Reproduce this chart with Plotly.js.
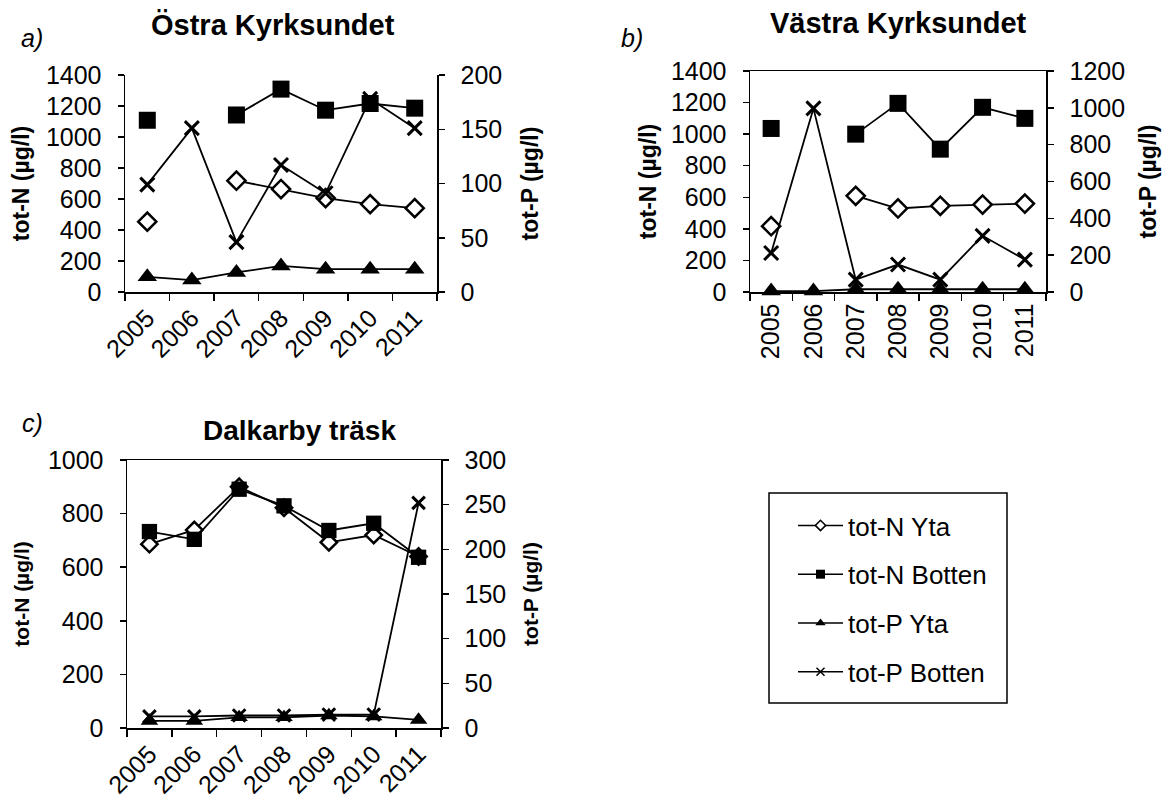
<!DOCTYPE html>
<html>
<head>
<meta charset="utf-8">
<script src="https://cdn.plot.ly/plotly-3.0.1.min.js"></script>
<style>
  html, body { margin: 0; padding: 0; background: #fff; }
  #chart { width: 1176px; height: 805px; }
</style>
</head>
<body>
<div id="chart"></div>
<script>
// ---------- data ----------
const years = ['2005', '2006', '2007', '2008', '2009', '2010', '2011'];

// a) Östra Kyrksundet
const a_totN_Yta    = [454, null, 718, 664, 606, 567, 541];
const a_totN_Botten = [1108, null, 1142, 1309, 1173, 1216, 1186];
const a_totP_Yta    = [14, 11, 18, 24, 21, 21, 21];
const a_totP_Botten = [99, 151, 46, 117, 91, 178, 151];

// b) Västra Kyrksundet
const b_totN_Yta    = [417, null, 609, 529, 546, 554, 560];
const b_totN_Botten = [1036, null, 1000, 1195, 905, 1170, 1100];
const b_totP_Yta    = [5, 5, 15, 15, 15, 15, 15];
const b_totP_Botten = [212, 997, 67, 149, 67, 305, 176];

// c) Dalkarby träsk
const c_totN_Yta    = [686, 739, 900, 822, 693, 720, 640];
const c_totN_Botten = [733, 704, 891, 829, 737, 764, 637];
const c_totP_Yta    = [8, 8, 12, 12, 14, 13, 9];
const c_totP_Botten = [13, 13, 14, 14, 15, 15, 252];

const seriesNames = ['tot-N Yta', 'tot-N Botten', 'tot-P Yta', 'tot-P Botten'];
const panelTitles = ['Östra Kyrksundet', 'Västra Kyrksundet', 'Dalkarby träsk'];
const panelLetters = ['a)', 'b)', 'c)'];
const yTitleN = 'tot-N (µg/l)';
const yTitleP = 'tot-P (µg/l)';

// ---------- styling ----------
const W = 1176, H = 805;
const FONT = 'Liberation Sans, Arial, sans-serif';
const px = v => v / W;
const py = v => 1 - v / H;

function markerStyles(scale) {
  return [
    { symbol: 'diamond', size: 14 * scale, color: '#ffffff', line: { color: '#000', width: 2.5 } },
    { symbol: 'square', size: 17 * scale, color: '#000', line: { color: '#000', width: 0 } },
    { symbol: 'triangle-up', size: 17 * scale, color: '#000', line: { color: '#000', width: 0 } },
    { symbol: 'x-thin', size: 14 * scale, color: '#000', line: { color: '#000', width: 3 } }
  ];
}
const legendMarkers = [
  { symbol: 'diamond', size: 8, color: '#ffffff', line: { color: '#000', width: 1.5 } },
  { symbol: 'square', size: 9, color: '#000', line: { color: '#000', width: 0 } },
  { symbol: 'triangle-up', size: 9, color: '#000', line: { color: '#000', width: 0 } },
  { symbol: 'x-thin', size: 8, color: '#000', line: { color: '#000', width: 1.5 } }
];

function mk(y, idx, xa, ya, scale) {
  return {
    x: years, y: y, xaxis: xa, yaxis: ya,
    type: 'scatter', mode: 'lines+markers',
    name: seriesNames[idx], showlegend: false,
    connectgaps: false,
    line: { color: '#000', width: 1.8 },
    marker: markerStyles(scale || 1)[idx],
    cliponaxis: false
  };
}

const data = [
  mk(a_totN_Yta, 0, 'x', 'y'),
  mk(a_totN_Botten, 1, 'x', 'y'),
  mk(a_totP_Yta, 2, 'x', 'y2'),
  mk(a_totP_Botten, 3, 'x', 'y2'),
  mk(b_totN_Yta, 0, 'x2', 'y3'),
  mk(b_totN_Botten, 1, 'x2', 'y3'),
  mk(b_totP_Yta, 2, 'x2', 'y4'),
  mk(b_totP_Botten, 3, 'x2', 'y4'),
  mk(c_totN_Yta, 0, 'x3', 'y5', 0.9),
  mk(c_totN_Botten, 1, 'x3', 'y5', 0.9),
  mk(c_totP_Yta, 2, 'x3', 'y6', 0.9),
  mk(c_totP_Botten, 3, 'x3', 'y6', 0.9)
];
// legend entries
seriesNames.forEach((n, i) => {
  data.push({
    x: [null], y: [null], xaxis: 'x3', yaxis: 'y5',
    type: 'scatter', mode: 'lines+markers', name: n,
    legendgroup: 'g' + i, showlegend: true,
    line: { color: '#000', width: 1.5 },
    marker: legendMarkers[i]
  });
});

const tickFont = { family: FONT, size: 25, color: '#000' };

function xax(domain, anchor, angle, mirror) {
  return {
    domain: domain, anchor: anchor, type: 'category',
    range: [-0.5, 6.5], tickson: 'boundaries',
    showline: true, linecolor: '#000', linewidth: 1.5, mirror: mirror,
    ticks: 'outside', ticklen: 7, tickcolor: '#000', tickwidth: 1.5,
    tickangle: angle, tickfont: tickFont,
    showgrid: false, zeroline: false, fixedrange: true
  };
}
function yax(domain, anchor, range, dtick, title, tsize, standoff, side, overlaying) {
  const o = {
    domain: domain, anchor: anchor, range: range, dtick: dtick,
    showline: true, linecolor: '#000', linewidth: 1.5,
    ticks: 'outside', ticklen: 6, tickcolor: '#000', tickwidth: 1.5,
    tickfont: tickFont, ticklabelstandoff: 11,
    showgrid: false, zeroline: false, fixedrange: true,
    title: { text: title, font: { family: FONT, size: tsize, color: '#000', weight: 'bold' }, standoff: standoff }
  };
  if (side) o.side = side;
  if (overlaying) o.overlaying = overlaying;
  return o;
}

const layout = {
  width: W, height: H,
  margin: { l: 0, r: 0, t: 0, b: 0 },
  paper_bgcolor: '#fff', plot_bgcolor: 'rgba(0,0,0,0)',
  font: { family: FONT, color: '#000' },
  showlegend: true,
  legend: {
    x: px(793), y: py(502), xanchor: 'left', yanchor: 'top',
    bgcolor: 'rgba(0,0,0,0)', borderwidth: 0,
    font: { family: FONT, size: 26, color: '#000' },
    traceorder: 'grouped', tracegroupgap: 12, itemwidth: 45
  },
  xaxis:  xax([px(125), px(437)], 'y', -45, false),
  yaxis:  yax([1 - 292 / H, 1 - 75 / H], 'x', [0, 1400], 200, yTitleN, 23, 10),
  yaxis2: yax([1 - 292 / H, 1 - 75 / H], 'x', [0, 200], 50, yTitleP, 23, 20, 'right', 'y'),
  xaxis2: xax([px(750), px(1046)], 'y3', -90, true),
  yaxis3: yax([1 - 292 / H, 1 - 71 / H], 'x2', [0, 1400], 200, yTitleN, 23, 8),
  yaxis4: yax([1 - 292 / H, 1 - 71 / H], 'x2', [0, 1200], 200, yTitleP, 23, 16, 'right', 'y3'),
  xaxis3: xax([px(127), px(441)], 'y5', -45, true),
  yaxis5: yax([1 - 728 / H, 1 - 460 / H], 'x3', [0, 1000], 200, yTitleN, 21, 12),
  yaxis6: yax([1 - 728 / H, 1 - 460 / H], 'x3', [0, 300], 50, yTitleP, 21, 18, 'right', 'y5'),
  shapes: [
    { type: 'rect', xref: 'paper', yref: 'paper',
      x0: px(769), x1: px(1007), y0: py(703), y1: py(493),
      line: { color: '#000', width: 1.5 }, fillcolor: 'rgba(0,0,0,0)' }
  ],
  annotations: [
    { text: '<b>' + panelTitles[0] + '</b>', x: px(273), y: py(25), xref: 'paper', yref: 'paper',
      xanchor: 'center', yanchor: 'middle', showarrow: false, font: { family: FONT, size: 29, color: '#000' } },
    { text: '<b>' + panelTitles[1] + '</b>', x: px(898), y: py(23), xref: 'paper', yref: 'paper',
      xanchor: 'center', yanchor: 'middle', showarrow: false, font: { family: FONT, size: 29, color: '#000' } },
    { text: '<b>' + panelTitles[2] + '</b>', x: px(299), y: py(430), xref: 'paper', yref: 'paper',
      xanchor: 'center', yanchor: 'middle', showarrow: false, font: { family: FONT, size: 28, color: '#000' } },
    { text: '<i>' + panelLetters[0] + '</i>', x: px(32), y: py(38), xref: 'paper', yref: 'paper',
      xanchor: 'center', yanchor: 'middle', showarrow: false, font: { family: FONT, size: 25, color: '#000' } },
    { text: '<i>' + panelLetters[1] + '</i>', x: px(632), y: py(38), xref: 'paper', yref: 'paper',
      xanchor: 'center', yanchor: 'middle', showarrow: false, font: { family: FONT, size: 25, color: '#000' } },
    { text: '<i>' + panelLetters[2] + '</i>', x: px(32), y: py(423), xref: 'paper', yref: 'paper',
      xanchor: 'center', yanchor: 'middle', showarrow: false, font: { family: FONT, size: 25, color: '#000' } }
  ]
};

Plotly.newPlot('chart', data, layout, { staticPlot: true, displayModeBar: false });
</script>
</body>
</html>
